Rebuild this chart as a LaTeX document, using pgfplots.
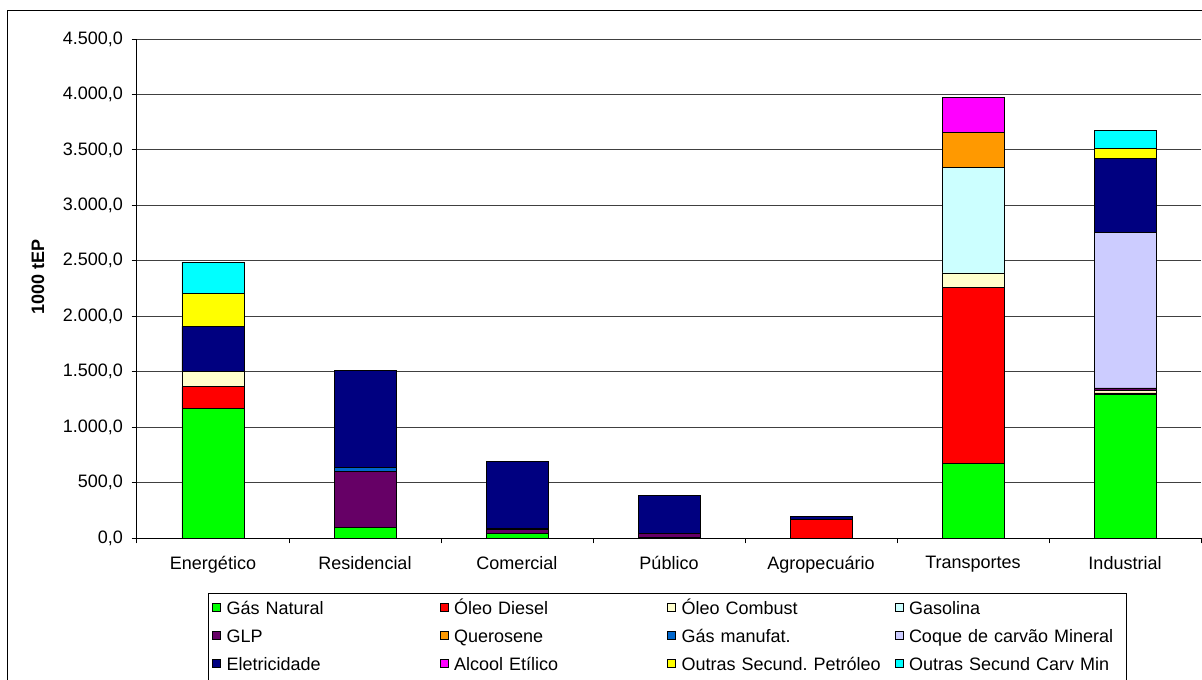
\documentclass[border=0pt]{standalone}
\usepackage{pgfplots}
\usepackage{pgfplotstable}
\usepackage{fontspec}
\setmainfont{Liberation Sans}
\pgfplotsset{compat=1.18}

\definecolor{cGN}{HTML}{00FF00}
\definecolor{cOD}{HTML}{FF0000}
\definecolor{cOC}{HTML}{FFFFCC}
\definecolor{cGas}{HTML}{CCFFFF}
\definecolor{cGLP}{HTML}{660066}
\definecolor{cQue}{HTML}{FF9900}
\definecolor{cGM}{HTML}{0066CC}
\definecolor{cCoq}{HTML}{CCCCFF}
\definecolor{cEle}{HTML}{000080}
\definecolor{cAlc}{HTML}{FF00FF}
\definecolor{cOSP}{HTML}{FFFF00}
\definecolor{cOSC}{HTML}{00FFFF}

% x: 0 Energetico, 1 Residencial, 2 Comercial, 3 Publico, 4 Agropecuario, 5 Transportes, 6 Industrial
\pgfplotstableread{
x GN OD OC Gas GLP Que GM Coq Ele Alc OSP OSC
0 1166 198 136 0 0 0 0 0 409 0 297 283
1 93 0 0 0 508 0 33 0 878 0 0 0
2 45 0 0 0 35 0 4 0 610 0 0 0
3 8 0 0 0 35 0 0 0 342 0 0 0
4 0 171 0 0 0 0 0 0 27 0 0 0
5 670 1593 127 949 0 322 0 0 0 313 0 0
6 1296 12 25 0 20 0 0 1406 661 0 90 163
}\datatable

\newcommand{\chartfont}{\fontsize{13.5}{16}\selectfont}

\begin{document}
\frenchspacing
\begin{tikzpicture}
\useasboundingbox (-102.75pt,-105.75pt) rectangle (798.75pt,403.5pt);
\draw[black, line width=0.75pt] (-96.75pt,-120pt) rectangle (820pt,395.25pt);
\begin{axis}[
  at={(0pt,0pt)}, anchor=south west,
  scale only axis,
  width=798pt, height=374.25pt,
  ybar stacked,
  bar width=46.5pt,
  xmin=-0.5, xmax=6.5,
  ymin=0, ymax=4500,
  axis x line*=bottom, axis y line*=left,
  axis line style={black, line width=0.75pt},
  xtick={0,...,6},
  xticklabels={Energético,Residencial,Comercial,Público,Agropecuário,Transportes,Industrial},
  minor xtick={-0.5,0.5,...,6.5},
  major x tick style={draw=none},
  minor x tick style={black, line width=0.75pt},
  ytick={0,500,...,4500},
  tick align=outside,
  major tick length=4pt, minor tick length=4pt,
  y tick style={black, line width=0.75pt},
  ymajorgrids,
  grid style={black!75, line width=0.6pt},
  tick label style={font=\chartfont},
  xticklabel style={yshift=-6pt},
  yticklabel style={xshift=-3pt},
  yticklabel={\pgfmathprintnumber[fixed, fixed zerofill, precision=1, use comma, 1000 sep={.}, assume math mode=true]{\tick}},
  ylabel={1000 tEP},
  every axis y label/.style={at={(axis description cs:-0.093,0.523)}, rotate=90, anchor=center, font=\chartfont\bfseries},
  legend columns=4,
  legend cell align=left,
  legend image code/.code={\draw[#1, draw=black, line width=0.6pt] (1.5pt,-0.8pt) rectangle (7.5pt,5.2pt);},
  legend style={at={(axis description cs:0.0667,-0.110)}, anchor=north west,
    draw=black, line width=0.75pt, font=\chartfont,
    inner xsep=3pt, inner ysep=4.5pt,
    row sep=4.5pt,
    nodes={text width=156pt, align=left, inner xsep=4pt, text height=9.5pt, text depth=3pt}},
  every axis plot/.append style={draw=black, line width=0.6pt},
]
\addplot[fill=cGN] table[x=x,y=GN]{\datatable};
\addplot[fill=cOD] table[x=x,y=OD]{\datatable};
\addplot[fill=cOC] table[x=x,y=OC]{\datatable};
\addplot[fill=cGas] table[x=x,y=Gas]{\datatable};
\addplot[fill=cGLP] table[x=x,y=GLP]{\datatable};
\addplot[fill=cQue] table[x=x,y=Que]{\datatable};
\addplot[fill=cGM] table[x=x,y=GM]{\datatable};
\addplot[fill=cCoq] table[x=x,y=Coq]{\datatable};
\addplot[fill=cEle] table[x=x,y=Ele]{\datatable};
\addplot[fill=cAlc] table[x=x,y=Alc]{\datatable};
\addplot[fill=cOSP] table[x=x,y=OSP]{\datatable};
\addplot[fill=cOSC] table[x=x,y=OSC]{\datatable};
\legend{Gás Natural,Óleo Diesel,Óleo Combust,Gasolina,GLP,Querosene,Gás manufat.,Coque de carvão Mineral,Eletricidade,Alcool Etílico,Outras Secund. Petróleo,Outras Secund Carv Min}
\end{axis}
\end{tikzpicture}
\end{document}
